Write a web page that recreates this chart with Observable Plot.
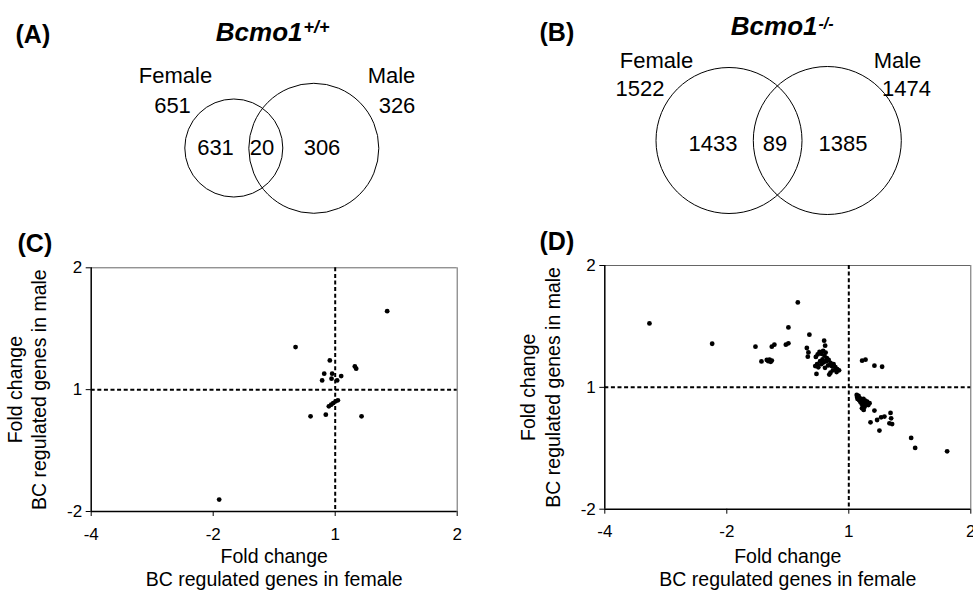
<!DOCTYPE html>
<html><head><meta charset="utf-8">
<script src="https://cdn.jsdelivr.net/npm/d3@7"></script>
<script src="https://cdn.jsdelivr.net/npm/@observablehq/plot@0.6"></script>
<style>
body{margin:0;background:#fff;}
#fig{position:relative;width:973px;height:592px;overflow:hidden;background:#fff;}
#fig svg{position:absolute;}
</style></head><body><div id="fig"></div>
<script>
// ---------- data ----------
const vennGroups = ["Female", "Male"];
const wtTitle = "Bcmo1", wtSup = "+/+";
const koTitle = "Bcmo1", koSup = "-/-";
const wtTotals = [651, 326];
const wtRegions = [631, 20, 306];      // female only, both, male only
const koTotals = [1522, 1474];
const koRegions = [1433, 89, 1385];
const panelLetters = ["(A)", "(B)", "(C)", "(D)"];

const xTitle = "Fold change\nBC regulated genes in female";
const yTitle = "Fold change\nBC regulated genes in male";
const xTickValues = [-2, -1, 0, 1];          // log2 positions
const xTickLabels = ["-4", "-2", "1", "2"];  // fold change labels
const yTickValues = [-1, 0, 1];
const yTickLabels = ["-2", "1", "2"];

// log2 fold change of the 20 shared genes, Bcmo1+/+
const wtFemale = [0.426,-0.325,-0.044,0.161,0.172,-0.090,-0.025,-0.107,-0.030,0.016,0.049,0.022,0.003,-0.016,-0.033,-0.052,-0.202,-0.077,0.216,-0.951];
const wtMale   = [0.644,0.349,0.240,0.191,0.172,0.131,0.131,0.076,0.090,0.076,0.111,-0.088,-0.096,-0.110,-0.123,-0.137,-0.219,-0.205,-0.219,-0.902];

// log2 fold change of the 89 shared genes, Bcmo1-/-
const koFemale = [
-1.634,-1.120,-0.765,-0.716,-0.672,-0.660,-0.650,-0.640,-0.631,-0.631,-0.610,-0.516,-0.495,-0.495,-0.418,-0.323,-0.344,-0.331,-0.336,-0.202,-0.194,
-0.270,-0.255,-0.240,-0.225,-0.210,-0.200,-0.190,-0.180,-0.215,-0.235,-0.260,-0.275,-0.250,-0.225,-0.205,-0.185,-0.165,-0.150,-0.170,-0.140,-0.125,-0.110,-0.095,-0.080,-0.130,-0.150,-0.160,-0.265,-0.100,-0.195,
0.109,0.137,0.210,0.273,
0.065,0.068,0.072,0.080,0.085,0.090,0.095,0.100,0.105,0.110,0.115,0.120,0.125,0.130,0.135,0.140,0.150,0.160,0.108,0.122,0.170,
0.210,0.178,0.232,0.265,0.292,0.251,0.342,0.347,0.333,0.355,0.511,0.544,0.806];
const koMale = [
0.525,0.358,0.334,0.213,0.225,0.215,0.228,0.210,0.220,0.334,0.350,0.350,0.361,0.492,0.697,0.432,0.323,0.287,0.252,0.383,0.342,
0.250,0.270,0.290,0.275,0.300,0.260,0.285,0.240,0.230,0.215,0.190,0.175,0.165,0.190,0.205,0.215,0.225,0.200,0.180,0.175,0.190,0.165,0.150,0.140,0.140,0.120,0.105,0.110,0.125,0.160,
0.219,0.227,0.178,0.169,
-0.062,-0.080,-0.095,-0.070,-0.105,-0.088,-0.120,-0.098,-0.135,-0.112,-0.150,-0.095,-0.125,-0.160,-0.110,-0.138,-0.118,-0.145,-0.172,-0.185,-0.130,
-0.191,-0.287,-0.268,-0.246,-0.240,-0.355,-0.210,-0.254,-0.295,-0.301,-0.415,-0.497,-0.525];

// ---------- layout ----------
const FONT = "'Liberation Sans', Arial, Helvetica, sans-serif";
const fig = document.getElementById("fig");

function place(svg, left, top) {
  svg.style.left = left + "px";
  svg.style.top = top + "px";
  fig.appendChild(svg);
}

function venn(o) {
  const L = o.layout;
  const circles = L.circles.map(c => ({x: c[0], y: c[1], r: c[2]}));
  const labels = [
    {t: vennGroups[0], p: L.group1}, {t: String(o.totals[0]), p: L.total1},
    {t: vennGroups[1], p: L.group2}, {t: String(o.totals[1]), p: L.total2},
    {t: String(o.regions[0]), p: L.reg1}, {t: String(o.regions[1]), p: L.reg2},
    {t: String(o.regions[2]), p: L.reg3}
  ].map(d => ({t: d.t, x: d.p[0], y: d.p[1]}));
  return Plot.plot({
    width: o.w, height: o.h, margin: 0,
    x: {domain: [0, o.w], range: [0, o.w], axis: null},
    y: {domain: [0, o.h], range: [0, o.h], axis: null},
    r: {type: "identity"},
    style: {fontFamily: FONT, background: "transparent", color: "black"},
    marks: [
      Plot.dot(circles, {x: "x", y: "y", r: "r", fill: "none", stroke: "black", strokeWidth: 1}),
      Plot.text(labels, {x: "x", y: "y", text: "t", fontSize: 22, textAnchor: "middle", lineAnchor: "bottom", fill: "black"}),
      Plot.text([o.title], {x: L.title[0], y: L.title[1], fontSize: 26, fontWeight: "bold", fontStyle: "italic", textAnchor: "end", lineAnchor: "bottom", fill: "black"}),
      Plot.text([o.sup], {x: L.sup[0], y: L.sup[1], fontSize: o.supSize, fontWeight: "bold", fontStyle: "italic", textAnchor: "start", lineAnchor: "bottom", fill: "black"}),
      Plot.text([o.letter], {x: L.letter[0], y: L.letter[1], fontSize: 25, fontWeight: "bold", textAnchor: "start", lineAnchor: "bottom", fill: "black"})
    ]
  });
}

function scatter(o) {
  const data = o.female.map((f, i) => ({f, m: o.male[i]}));
  const dash = {stroke: "black", strokeWidth: 2, strokeDasharray: "4,2.6"};
  return Plot.plot({
    width: o.w, height: o.h,
    marginLeft: o.ml, marginRight: o.mr, marginTop: o.mt, marginBottom: o.mb,
    style: {fontFamily: FONT, background: "transparent", color: "black"},
    x: {domain: [-2, 1]},
    y: {domain: [-1, 1]},
    marks: [
      Plot.ruleY([1], {stroke: "#666", strokeWidth: 1}),
      Plot.ruleX([1], {stroke: "#666", strokeWidth: 1}),
      Plot.ruleX([0], dash),
      Plot.ruleY([0], dash),
      Plot.dot(data, {x: "f", y: "m", r: 2.4, fill: "black", stroke: null}),
      Plot.ruleX([-2], {stroke: "black", strokeWidth: 1.5}),
      Plot.ruleY([-1], {stroke: "black", strokeWidth: 1.5}),
      Plot.axisX({ticks: xTickValues, tickFormat: d => xTickLabels[xTickValues.indexOf(d)], tickSize: 5, tickPadding: 11, fontSize: 17, label: null}),
      Plot.axisY({ticks: yTickValues, tickFormat: d => yTickLabels[yTickValues.indexOf(d)], tickSize: 5, tickPadding: 4, fontSize: 17, label: null}),
      Plot.text([xTitle], {frameAnchor: "bottom", dy: o.xTitleDy, textAnchor: "middle", lineAnchor: "bottom", lineHeight: 1.13, fontSize: 19.5, fill: "black"}),
      Plot.text([yTitle], {frameAnchor: "left", dx: o.yTitleDx, rotate: -90, textAnchor: "middle", lineAnchor: "middle", lineHeight: 1.25, fontSize: 19.5, fill: "black"}),
      Plot.text([o.letter], {frameAnchor: "top-left", dx: o.letterDx, dy: o.letterDy, textAnchor: "start", lineAnchor: "bottom", fontSize: 25, fontWeight: "bold", fill: "black"})
    ]
  });
}

place(venn({
  w: 486, h: 220, totals: wtTotals, regions: wtRegions, title: wtTitle, sup: wtSup, supSize: 18, letter: panelLetters[0],
  layout: {
    circles: [[233.3, 147.5, 49], [313.3, 147.8, 65]],
    group1: [175, 82], total1: [172, 112], group2: [391, 82], total2: [396.5, 112],
    reg1: [215, 154], reg2: [261.5, 154], reg3: [321.5, 154],
    title: [302, 40], sup: [303, 32], letter: [15, 42]
  }
}), 0, 0);

place(venn({
  w: 487, h: 220, totals: koTotals, regions: koRegions, title: koTitle, sup: koSup, supSize: 16, letter: panelLetters[1],
  layout: {
    circles: [[242.5, 140, 73], [340.8, 140, 74]],
    group1: [170, 67], total1: [153.5, 95], group2: [411, 67], total2: [420, 95],
    reg1: [226.5, 150], reg2: [288.5, 150], reg3: [356.5, 150],
    title: [331, 34], sup: [332, 28], letter: [53, 40]
  }
}), 486, 0);

place(scatter({
  female: wtFemale, male: wtMale, letter: panelLetters[2],
  w: 486, h: 372, ml: 90.7, mr: 29.3, mt: 47.3, mb: 81,
  xTitleDy: 74, yTitleDx: -65, letterDx: -73.7, letterDy: -16
}), 0, 220);

place(scatter({
  female: koFemale, male: koMale, letter: panelLetters[3],
  w: 487, h: 372, ml: 118.3, mr: 2.7, mt: 45, mb: 83.3,
  xTitleDy: 76.3, yTitleDx: -65, letterDx: -65.3, letterDy: -16
}), 486, 220);
</script>
</body></html>
